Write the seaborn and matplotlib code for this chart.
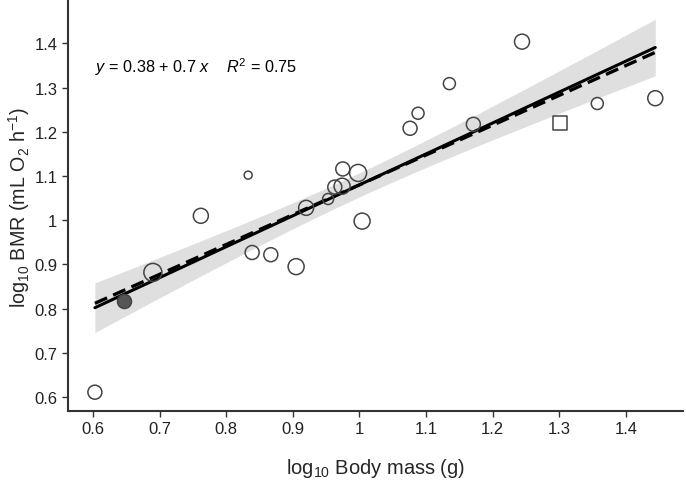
import matplotlib
matplotlib.use("Agg")
import matplotlib.pyplot as plt
import numpy as np
import pandas as pd
import seaborn as sns

# log10 body mass (g) and log10 BMR (mL O2 h-1)
body_mass = [0.603, 0.647, 0.690, 0.762, 0.833, 0.839, 0.867, 0.905, 0.920,
             0.953, 0.963, 0.974, 0.975, 0.998, 1.004, 1.076, 1.088, 1.135,
             1.171, 1.244, 1.301, 1.357, 1.444]
bmr = [0.611, 0.818, 0.882, 1.010, 1.102, 0.927, 0.922, 0.895, 1.028,
       1.048, 1.075, 1.077, 1.116, 1.107, 0.998, 1.208, 1.242, 1.309,
       1.217, 1.404, 1.219, 1.264, 1.276]
# relative symbol size (radius class)
weight = [7, 7, 9, 7.5, 4, 7, 7, 8, 7.5,
          5.5, 7, 8, 7, 8.5, 8, 7, 6, 6,
          7, 7.5, 7, 6, 7.5]
group = ["open", "filled"] + ["open"] * 18 + ["square", "open", "open"]

# reported model (solid) and second model (dashed)
fit_intercept = 0.38
fit_slope = 0.70
dashed_intercept = 0.405
dashed_slope = 0.675
t_crit = 2.013       # t(0.975, df=45)
reps_per_species = 2  # band fitted on individual measurements

df = pd.DataFrame({"mass": body_mass, "bmr": bmr, "w": weight, "group": group})
df["s"] = (2 * df["w"] * 0.72) ** 2

sns.set_theme(style="ticks")
plt.rcParams["font.family"] = ["Liberation Sans", "DejaVu Sans"]
plt.rcParams["mathtext.fontset"] = "custom"
plt.rcParams["mathtext.rm"] = "Liberation Sans"
plt.rcParams["mathtext.it"] = "Liberation Sans:italic"

fig, ax = plt.subplots(figsize=(6.86, 4.81), dpi=100)
fig.subplots_adjust(left=0.099, right=0.996, bottom=0.1435, top=0.995)

# 95% confidence band of the mean around the reported line
x = df["mass"].to_numpy()
y = df["bmr"].to_numpy()
n = len(x)
resid = y - (fit_intercept + fit_slope * x)
s_res = np.sqrt(np.sum(resid ** 2) / (n - 2))
sxx = np.sum((x - x.mean()) ** 2)
grid = np.linspace(x.min(), x.max(), 200)
fit = fit_intercept + fit_slope * grid
half = t_crit * s_res * np.sqrt((1 / n + (grid - x.mean()) ** 2 / sxx) / reps_per_species)
ax.fill_between(grid, fit - half, fit + half, color="#dfdfdf", lw=0, zorder=1)

line_df = pd.DataFrame({"mass": grid, "solid": fit,
                        "dashed": dashed_intercept + dashed_slope * grid})
sns.lineplot(data=line_df, x="mass", y="dashed", color="black", lw=2.4,
             ls=(0, (4, 2)), zorder=3, ax=ax)
sns.lineplot(data=line_df, x="mass", y="solid", color="black", lw=2.2,
             zorder=4, ax=ax)

opn = df[df["group"] == "open"]
ax.scatter(opn["mass"], opn["bmr"], s=opn["s"], facecolor="none",
           edgecolor="#444444", linewidth=1.1, zorder=5)
fil = df[df["group"] == "filled"]
ax.scatter(fil["mass"], fil["bmr"], s=fil["s"], facecolor="#555555",
           edgecolor="#444444", linewidth=1.1, zorder=5)
sq = df[df["group"] == "square"]
ax.scatter(sq["mass"], sq["bmr"], s=sq["s"], marker="s", facecolor="none",
           edgecolor="#444444", linewidth=1.1, zorder=5)

ax.text(0.603, 1.348, r"$y$ = 0.38 + 0.7 $x$    $R^2$ = 0.75", fontsize=11.7,
        va="center", ha="left", color="black")

ax.set_xlim(0.5625, 1.486)
ax.set_ylim(0.5685, 1.495)
ax.set_xticks([0.6, 0.7, 0.8, 0.9, 1.0, 1.1, 1.2, 1.3, 1.4])
ax.set_xticklabels(["0.6", "0.7", "0.8", "0.9", "1", "1.1", "1.2", "1.3", "1.4"])
ax.set_yticks([0.6, 0.7, 0.8, 0.9, 1.0, 1.1, 1.2, 1.3, 1.4])
ax.set_yticklabels(["0.6", "0.7", "0.8", "0.9", "1", "1.1", "1.2", "1.3", "1.4"])
ax.tick_params(labelsize=12, length=4, width=1, color="#333333", labelcolor="#222222")
for side in ["left", "bottom"]:
    ax.spines[side].set_linewidth(1.5)
    ax.spines[side].set_color("#333333")
sns.despine(ax=ax)

ax.set_xlabel(r"log$_{10}$ Body mass (g)", fontsize=14.5, labelpad=14)
ax.set_ylabel(r"log$_{10}$ BMR (mL O$_2$ h$^{-1}$)", fontsize=14.2, labelpad=2)

fig.savefig("out.png", dpi=100)
